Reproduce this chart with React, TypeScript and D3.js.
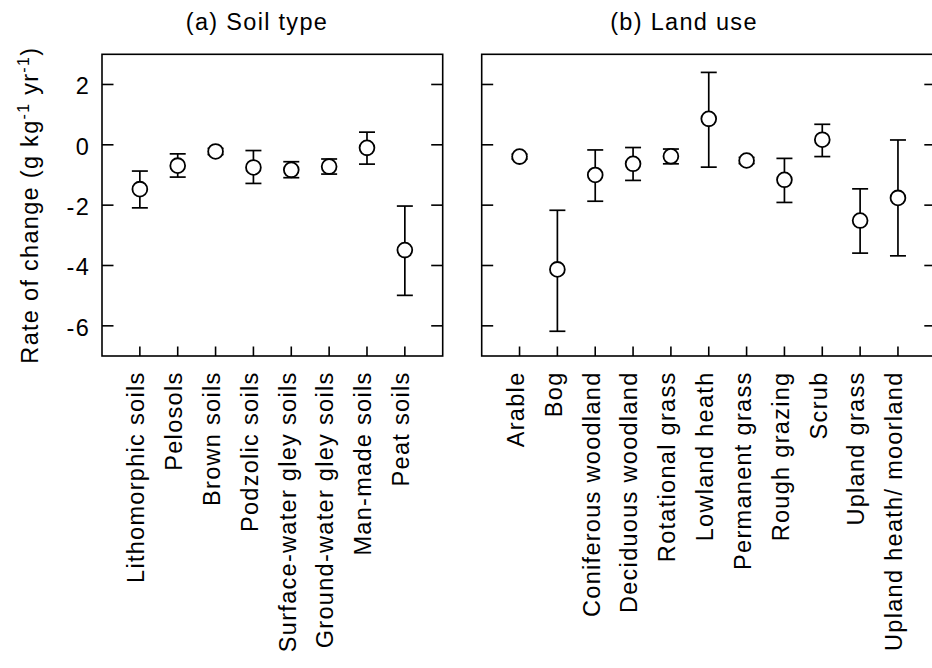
import React from "react";
import * as d3 from "d3";

const soilCategories = ["Lithomorphic soils", "Pelosols", "Brown soils", "Podzolic soils", "Surface-water gley soils", "Ground-water gley soils", "Man-made soils", "Peat soils"];
const soilMean = [-1.47, -0.69, -0.22, -0.75, -0.83, -0.72, -0.10, -3.49];
const soilLower = [-2.09, -1.07, -0.32, -1.28, -1.09, -0.97, -0.64, -4.99];
const soilUpper = [-0.87, -0.30, -0.12, -0.19, -0.56, -0.47, 0.42, -2.03];

const landCategories = ["Arable", "Bog", "Coniferous woodland", "Deciduous woodland", "Rotational grass", "Lowland heath", "Permanent grass", "Rough grazing", "Scrub", "Upland grass", "Upland heath/ moorland"];
const landMean = [-0.39, -4.13, -1.00, -0.63, -0.38, 0.86, -0.52, -1.16, 0.17, -2.51, -1.76];
const landLower = [-0.47, -6.18, -1.87, -1.18, -0.63, -0.74, -0.62, -1.91, -0.39, -3.59, -3.68];
const landUpper = [-0.31, -2.17, -0.17, -0.09, -0.14, 2.40, -0.42, -0.45, 0.68, -1.46, 0.16];

const yTicks = [2, 0, -2, -4, -6];

const FONT = "'Liberation Sans', Arial, Helvetica, sans-serif";
const FS = 23.5;
const LS = 1.3;
const W = 932;
const H = 668;
const TOP = 54.3;
const BOTTOM = 356;

const y = d3.scaleLinear().domain([-7, 3]).range([BOTTOM, TOP]);

type PanelProps = {
  cats: string[];
  mean: number[];
  lower: number[];
  upper: number[];
  x0: number;
  x1: number;
  title: string;
  titleX: number;
  showYLabels: boolean;
};

function Panel({ cats, mean, lower, upper, x0, x1, title, titleX, showYLabels }: PanelProps) {
  const x = d3.scaleLinear().domain([0, cats.length + 1]).range([x0, x1]);
  const tickLenY = 11.5;
  const tickLenX = 9.5;
  const cap = 8;
  return (
    <g>
      <text x={titleX} y={30} textAnchor="middle" fontSize={FS} letterSpacing={LS} fontFamily={FONT}>{title}</text>
      <rect x={x0} y={TOP} width={x1 - x0} height={BOTTOM - TOP} fill="none" stroke="#000" strokeWidth={1.6} />
      {yTicks.map((t) => (
        <g key={"yt" + t}>
          <line x1={x0} x2={x0 + tickLenY} y1={y(t)} y2={y(t)} stroke="#000" strokeWidth={1.6} />
          <line x1={x1} x2={x1 - tickLenY} y1={y(t)} y2={y(t)} stroke="#000" strokeWidth={1.6} />
          {showYLabels && (
            <text x={x0 - 12} y={y(t) + 10} textAnchor="end" fontSize={FS} letterSpacing={LS} fontFamily={FONT}>{t}</text>
          )}
        </g>
      ))}
      {cats.map((c, i) => {
        const xi = x(i + 1);
        return (
          <g key={c}>
            <line x1={xi} x2={xi} y1={BOTTOM} y2={BOTTOM - tickLenX} stroke="#000" strokeWidth={1.6} />
            <text transform={`translate(${xi + 4.3},${371.5}) rotate(-90)`} textAnchor="end" fontSize={FS} letterSpacing={LS} fontFamily={FONT}>{c}</text>
          </g>
        );
      })}
      {cats.map((c, i) => {
        const xi = x(i + 1);
        return (
          <g key={"pt" + c}>
            <line x1={xi} x2={xi} y1={y(lower[i])} y2={y(upper[i])} stroke="#000" strokeWidth={1.7} />
            <line x1={xi - cap} x2={xi + cap} y1={y(lower[i])} y2={y(lower[i])} stroke="#000" strokeWidth={1.7} />
            <line x1={xi - cap} x2={xi + cap} y1={y(upper[i])} y2={y(upper[i])} stroke="#000" strokeWidth={1.7} />
            <circle cx={xi} cy={y(mean[i])} r={7.4} fill="#fff" stroke="#000" strokeWidth={1.8} />
          </g>
        );
      })}
    </g>
  );
}

export default function App() {
  const labelY = (TOP + BOTTOM) / 2;
  return (
    <svg width={W} height={H} style={{ position: "absolute", left: 0, top: 0, background: "#fff" }}>
      <rect x={0} y={0} width={W} height={H} fill="#fff" />
      <Panel cats={soilCategories} mean={soilMean} lower={soilLower} upper={soilUpper} x0={102} x1={442.7} title="(a) Soil type" titleX={257} showYLabels={true} />
      <Panel cats={landCategories} mean={landMean} lower={landLower} upper={landUpper} x0={481.7} x1={935.8} title="(b) Land use" titleX={684} showYLabels={false} />
      <text transform={`translate(38,${labelY}) rotate(-90)`} textAnchor="middle" fontSize={FS} letterSpacing={LS} fontFamily={FONT}>
        Rate of change (g kg
        <tspan fontSize={16} dy={-9}>-1</tspan>
        <tspan dy={9}> yr</tspan>
        <tspan fontSize={16} dy={-9}>-1</tspan>
        <tspan dy={9}>)</tspan>
      </text>
    </svg>
  );
}
